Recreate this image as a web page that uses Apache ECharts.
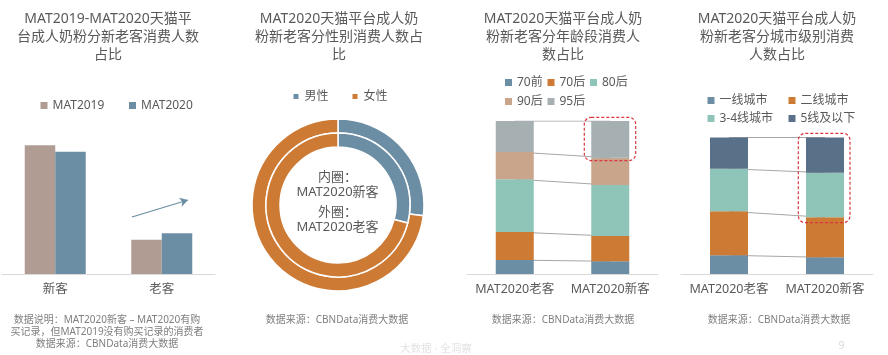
<!DOCTYPE html>
<html><head><meta charset="utf-8">
<script src="https://cdn.jsdelivr.net/npm/echarts@6/dist/echarts.min.js"></script>
<style>html,body{margin:0;padding:0;background:#fff}#c{width:888px;height:355px}</style>
</head><body><div id="c"></div>
<script>
// ---- Data ----
const p1Categories = ['新客', '老客'];
const p1SeriesNames = ['MAT2019', 'MAT2020'];
const p1MAT2019 = [79, 21];
const p1MAT2020 = [75, 25];

const p2Names = ['男性', '女性'];
const p2InnerNew = [29, 71];   // 内圈：MAT2020新客
const p2OuterOld = [27, 73];   // 外圈：MAT2020老客

const p3Categories = ['MAT2020老客', 'MAT2020新客'];
const p3Names = ['70前', '70后', '80后', '90后', '95后'];
const p3Age70Before = [9.1, 8.3];
const p3Age70After = [18.3, 16.5];
const p3Age80 = [34.6, 33.3];
const p3Age90 = [17.8, 17.8];
const p3Age95 = [20.2, 24.1];

const p4Categories = ['MAT2020老客', 'MAT2020新客'];
const p4Names = ['一线城市', '二线城市', '3-4线城市', '5线及以下'];
const p4Tier1 = [13.7, 12.2];
const p4Tier2 = [32.2, 29.3];
const p4Tier34 = [31.2, 32.7];
const p4Tier5 = [22.9, 25.8];

// ---- Styles ----
const FONT = "'Noto Sans', 'Noto Sans CJK SC', sans-serif";
const TXT = '#595959';
const FOOT = '#7f7f7f';
const C = { brown: '#b19c93', blue: '#6b8ea5', orange: '#cd7a35', teal: '#8fc5b9', tan: '#c9a58c', gray: '#a6b0b3', slate: '#587088' };

const p3Data = [p3Age70Before, p3Age70After, p3Age80, p3Age90, p3Age95];
const p3Colors = [C.blue, C.orange, C.teal, C.tan, C.gray];
const p4Data = [p4Tier1, p4Tier2, p4Tier34, p4Tier5];
const p4Colors = [C.blue, C.orange, C.teal, C.slate];

function cumulative(arrs) {
  const out = []; let acc = arrs[0].map(() => 0);
  arrs.forEach(a => { acc = acc.map((v, i) => v + a[i]); out.push(acc.slice()); });
  return out;
}

const series = [];
// Panel 1
series.push({ name: p1SeriesNames[0], type: 'bar', xAxisIndex: 0, yAxisIndex: 0, data: p1MAT2019, barWidth: 30.5, barGap: '0%', itemStyle: { color: C.brown }, silent: true });
series.push({ name: p1SeriesNames[1], type: 'bar', xAxisIndex: 0, yAxisIndex: 0, data: p1MAT2020, barWidth: 30.5, barGap: '0%', itemStyle: { color: C.blue }, silent: true,
  markLine: { silent: true, symbol: ['none', 'arrow'], symbolSize: [7, 8], label: { show: false },
    lineStyle: { color: C.blue, width: 1.3, type: 'solid' },
    data: [[{ x: 132, y: 217 }, { x: 188, y: 200 }]] } });
// Panel 2 pies
series.push({ type: 'pie', center: [338, 205], radius: [72, 86], startAngle: 90, clockwise: true, silent: true,
  label: { show: false }, labelLine: { show: false }, itemStyle: { borderColor: '#fff', borderWidth: 1.5 },
  data: p2Names.map((n, i) => ({ name: n, value: p2OuterOld[i], itemStyle: { color: [C.blue, C.orange][i] } })) });
series.push({ type: 'pie', center: [338, 205], radius: [58, 72], startAngle: 90, clockwise: true, silent: true,
  label: { show: false }, labelLine: { show: false }, itemStyle: { borderColor: '#fff', borderWidth: 1.5 },
  data: p2Names.map((n, i) => ({ name: n, value: p2InnerNew[i], itemStyle: { color: [C.blue, C.orange][i] } })) });
// Panel 3
p3Data.forEach((d, i) => series.push({ name: p3Names[i], type: 'bar', stack: 'p3', xAxisIndex: 1, yAxisIndex: 1, data: d, barWidth: 38, z: 3, itemStyle: { color: p3Colors[i] }, silent: true }));
cumulative(p3Data).forEach((d, i) => series.push({ name: 'p3line' + i, type: 'line', xAxisIndex: 1, yAxisIndex: 1, data: d, z: 1, symbol: 'none', silent: true, lineStyle: { color: '#a6a6a6', width: 1 } }));
// Panel 4
p4Data.forEach((d, i) => series.push({ name: p4Names[i], type: 'bar', stack: 'p4', xAxisIndex: 2, yAxisIndex: 2, data: d, barWidth: 38, z: 3, itemStyle: { color: p4Colors[i] }, silent: true }));
cumulative(p4Data).forEach((d, i) => series.push({ name: 'p4line' + i, type: 'line', xAxisIndex: 2, yAxisIndex: 2, data: d, z: 1, symbol: 'none', silent: true, lineStyle: { color: '#a6a6a6', width: 1 } }));

function xAx(gi, cats) {
  return { type: 'category', gridIndex: gi, data: cats, axisTick: { show: false },
    axisLine: { lineStyle: { color: '#d9d9d9', width: 1 } },
    axisLabel: { interval: 0, color: TXT, fontSize: 12.5, fontFamily: FONT, margin: 9 } };
}
function yAx(gi) { return { type: 'value', gridIndex: gi, min: 0, max: 100, show: false }; }

function leg(name, x, yc) {
  return { data: [name], left: x, top: yc - 4.5, padding: 0, itemWidth: 7, itemHeight: 7, icon: 'rect', selectedMode: false,
    textStyle: { color: TXT, fontSize: 12, fontFamily: FONT } };
}

function txt(x, y, text, size, color, lh) {
  return { type: 'text', x: x, y: y, silent: true,
    style: { text: text, fill: color, fontSize: size, fontFamily: FONT, align: 'center', verticalAlign: 'top', lineHeight: lh } };
}

const option = {
  animation: false,
  grid: [
    { left: 2, width: 213, top: 111, height: 163 },
    { left: 467, width: 191, top: 121, height: 153 },
    { left: 681, width: 192, top: 137.5, height: 136.5 }
  ],
  xAxis: [xAx(0, p1Categories), xAx(1, p3Categories), xAx(2, p4Categories)],
  yAxis: [yAx(0), yAx(1), yAx(2)],
  legend: [
    leg(p1SeriesNames[0], 40.5, 104), leg(p1SeriesNames[1], 129, 104),
    leg(p2Names[0], 291.5, 95), leg(p2Names[1], 350.5, 95),
    leg(p3Names[0], 505, 81), leg(p3Names[1], 547.5, 81), leg(p3Names[2], 590, 81),
    leg(p3Names[3], 505, 100), leg(p3Names[4], 547.5, 100),
    leg(p4Names[0], 707.5, 99), leg(p4Names[1], 788.5, 99),
    leg(p4Names[2], 707.5, 117), leg(p4Names[3], 788.5, 117)
  ],
  series: series,
  graphic: [
    txt(108, 9.5, 'MAT2019-MAT2020天猫平\n台成人奶粉分新老客消费人数\n占比', 14, TXT, 18.3),
    txt(339, 9.5, 'MAT2020天猫平台成人奶\n粉新老客分性别消费人数占\n比', 14, TXT, 18.3),
    txt(563, 9.5, 'MAT2020天猫平台成人奶\n粉新老客分年龄段消费人\n数占比', 14, TXT, 18.3),
    txt(777, 9.5, 'MAT2020天猫平台成人奶\n粉新老客分城市级别消费\n人数占比', 14, TXT, 18.3),
    txt(337.5, 169.5, '内圈：\nMAT2020新客', 13, TXT, 15.5),
    txt(337.5, 204.5, '外圈：\nMAT2020老客', 13, TXT, 15.5),
    txt(107, 314, '数据说明：MAT2020新客 – MAT2020有购\n买记录，但MAT2019没有购买记录的消费者\n数据来源：CBNData消费大数据', 10, FOOT, 12),
    txt(337, 314.5, '数据来源：CBNData消费大数据', 10, FOOT, 12),
    txt(563, 314.5, '数据来源：CBNData消费大数据', 10, FOOT, 12),
    txt(779, 314.5, '数据来源：CBNData消费大数据', 10, FOOT, 12),
    txt(436, 343.5, '大数据 · 全洞察', 10.5, '#e3e3e3', 12),
    txt(841.5, 340, '9', 10.5, '#d9d9d9', 12),
    { type: 'rect', silent: true, z: 10, shape: { x: 584.3, y: 117.3, width: 51.4, height: 43.4, r: 7 },
      style: { fill: 'none', stroke: '#d9363e', lineWidth: 1.2, lineDash: [3, 2] } },
    { type: 'rect', silent: true, z: 10, shape: { x: 798.3, y: 133.3, width: 51.7, height: 89.4, r: 7 },
      style: { fill: 'none', stroke: '#d9363e', lineWidth: 1.2, lineDash: [3, 2] } }
  ]
};
const chart = echarts.init(document.getElementById('c'), null, { renderer: 'canvas' });
chart.setOption(option);
</script></body></html>
